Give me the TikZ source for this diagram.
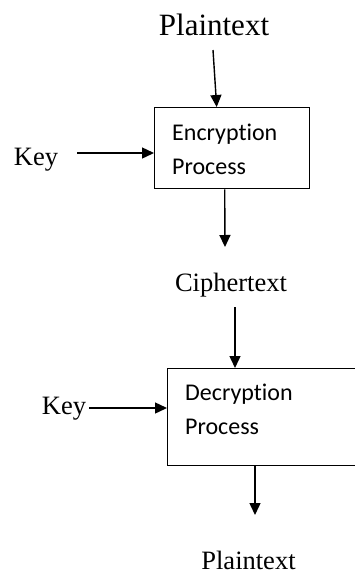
\documentclass[tikz,border=0pt]{standalone}
\usepackage{fontspec}
\setmainfont{Liberation Serif}
\newfontfamily\boxfont[Ligatures=NoCommon]{Carlito}
\usetikzlibrary{arrows.meta}

\begin{document}
\begin{tikzpicture}[x=1pt,y=-1pt,
  arr/.style={line width=1.4pt,-{Triangle[length=12pt,width=11pt]}},
  procbox/.style={draw,line width=1.4pt,anchor=north west,inner sep=0pt},
  proctext/.style={anchor=north west,inner sep=0pt,align=left,
    font=\boxfont\fontsize{24}{34}\selectfont},
  lbl/.style={anchor=base,inner sep=0pt,font=\fontsize{26.5}{30}\selectfont}]
\useasboundingbox (0,0) rectangle (355,576);
\clip (0,0) rectangle (355,576);
% top half
\node[lbl,font=\fontsize{31}{34}\selectfont] (pt1) at (214,35) {Plaintext};
\node[procbox,minimum width=155pt,minimum height=81pt] (enc) at (154,107) {};
\node[proctext] (enctext) at (172,124) {Encryption\\Process};
\node[lbl] (key1) at (36,165) {Key};
\coordinate (a1) at (213,50);
\coordinate (k1) at (77,153);
\coordinate (a2) at (225,247);
\draw[arr] (a1) -- ([xshift=-15.5pt]enc.north);
\draw[arr] (k1) -- (k1 -| enc.west);
\draw[arr] ([xshift=-7.5pt]enc.south) -- (a2);
% bottom half
\node[lbl] (ct) at (231,291) {Ciphertext};
\node[procbox,minimum width=210pt,minimum height=97pt] (dec) at (167,368) {};
\node[proctext] (dectext) at (185,384) {Decryption\\Process};
\node[lbl] (key2) at (64,414) {Key};
\node[lbl] (pt2) at (248.5,569) {Plaintext};
\coordinate (a3) at (235,307);
\coordinate (k2) at (89,408);
\coordinate (a4) at (255,515);
\draw[arr] (a3) -- (a3 |- dec.north);
\draw[arr] (k2) -- (k2 -| dec.west);
\draw[arr] (a4 |- dec.south) -- (a4);
\end{tikzpicture}
\end{document}
